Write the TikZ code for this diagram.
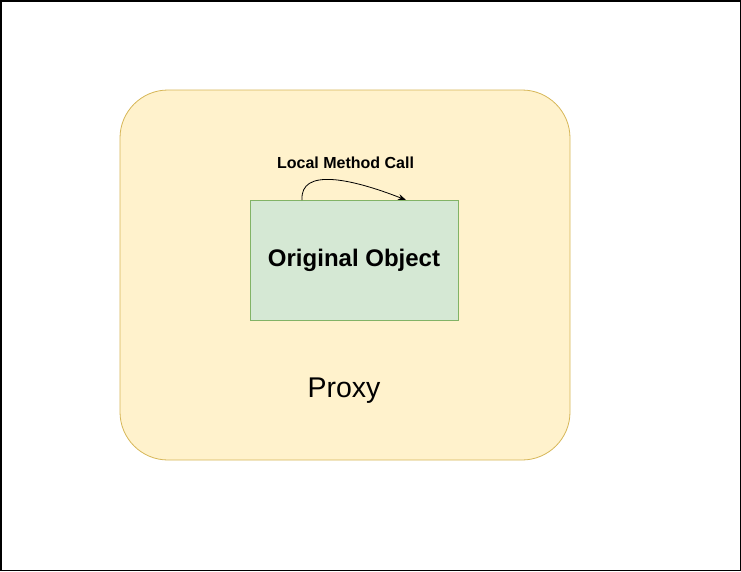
\documentclass[tikz,border=0pt]{standalone}
\usepackage{fontspec}
\setmainfont{Liberation Sans}
\usetikzlibrary{arrows.meta}
\definecolor{proxyfill}{HTML}{FFF2CC}
\definecolor{proxyline}{HTML}{D6B656}
\definecolor{objfill}{HTML}{D5E8D4}
\definecolor{objline}{HTML}{82B366}
\tikzset{
  proxybox/.style={draw=proxyline, fill=proxyfill, rounded corners=48pt, line width=0.8pt},
  objbox/.style={draw=objline, fill=objfill, line width=0.8pt, minimum width=208pt, minimum height=120pt, font=\fontsize{24}{28}\selectfont\bfseries},
}
\begin{document}
\begin{tikzpicture}[x=1pt, y=-1pt]
		%%%%% FRAME %%%%%
		\draw[line width=1.5pt] (0.75, 0.75) rectangle (740.25, 570.25);
		
		%%%%% PROXY %%%%%
		\draw[proxybox] (120, 90) rectangle (570, 460);
		\node[font=\fontsize{28.5}{34}\selectfont, anchor=base] (proxy) at (344, 397) {Proxy};
		
		%%%%% OBJECT %%%%%
		\node[objbox] (obj) at (354, 260) {Original Object};
		\coordinate (callstart) at (302, 200);
		\coordinate (callend) at (406, 200);
		\draw[-{Stealth[length=8pt, width=6pt]}, line width=0.8pt] (callstart) .. controls (300, 168) and (350, 178) .. (callend);
		\node[font=\fontsize{16}{19}\selectfont\bfseries] (call) at (345.5, 163) {Local Method Call};
\end{tikzpicture}
\end{document}
